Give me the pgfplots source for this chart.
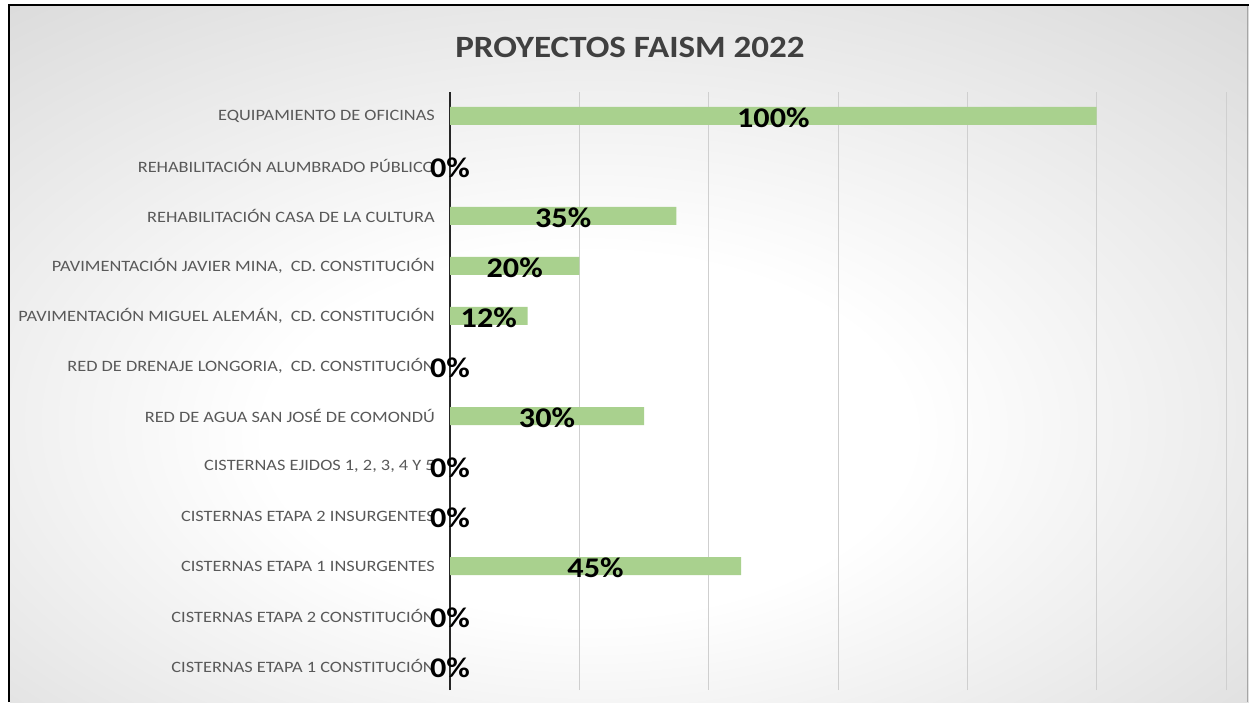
\documentclass[border=0pt]{standalone}
\usepackage{pgfplots}
\pgfplotsset{compat=1.18}
\usepackage{pgfplotstable}
\usepackage{graphicx}
\usepackage{fontspec}
\setmainfont{Carlito}
\definecolor{barg}{HTML}{A9D18E}
\definecolor{labg}{HTML}{595959}
\definecolor{titg}{HTML}{404040}
\definecolor{gridg}{HTML}{CFCFCF}
\newcommand\sx[1]{\scalebox{1.13}[1]{#1}}
\newcommand\sy[1]{\scalebox{1.16}[1]{#1}}
\pgfdeclareradialshading{bgshade}{\pgfpoint{-2bp}{-7bp}}{color(0bp)=(white); color(13bp)=(white); color(50bp)=(gray!42); color(75bp)=(gray!50)}

\pgfplotstableread{
i v
0 0
1 0
2 45
3 0
4 0
5 30
6 0
7 12
8 20
9 35
10 0
11 100
}\datatable

\begin{document}
\begin{tikzpicture}
\path[use as bounding box] (0pt,0pt) rectangle (1249pt,702pt);
\fill[white] (0pt,0pt) rectangle (1249pt,702pt);
\shade[shading=bgshade] (10pt,0pt) rectangle (1249pt,696pt);
\draw[black, line width=2pt] (9pt,0pt) -- (9pt,697pt) -- (1249pt,697pt);
\draw[gray!70, line width=1pt] (1247pt,0pt) -- (1247pt,696pt);
\node[anchor=center, text=titg, font=\fontsize{31}{36}\selectfont\bfseries] at (630pt,655pt) {\sx{PROYECTOS FAISM 2022}};
\begin{axis}[
  at={(450pt,12pt)}, anchor=south west,
  scale only axis, width=776pt, height=598pt,
  xmin=0, xmax=120, ymin=-0.48, ymax=11.48,
  axis y line*=left, axis x line*=bottom,
  x axis line style={draw=none},
  y axis line style={draw=black!85, line width=1.5pt},
  xtick={20,40,60,80,100,120}, xticklabels={},
  major x tick style={draw=none},
  xmajorgrids, grid style={gridg, line width=1pt},
  ytick={0,...,11},
  major y tick style={draw=none},
  yticklabels={
    {\sy{CISTERNAS ETAPA 1 CONSTITUCIÓN}},
    {\sy{CISTERNAS ETAPA 2 CONSTITUCIÓN}},
    {\sy{CISTERNAS ETAPA 1 INSURGENTES}},
    {\sy{CISTERNAS ETAPA 2 INSURGENTES}},
    {\sy{CISTERNAS EJIDOS 1, 2, 3, 4 Y 5}},
    {\sy{RED DE AGUA SAN JOSÉ DE COMONDÚ}},
    {\sy{RED DE DRENAJE LONGORIA,\ \ CD. CONSTITUCIÓN}},
    {\sy{PAVIMENTACIÓN MIGUEL ALEMÁN,\ \ CD. CONSTITUCIÓN}},
    {\sy{PAVIMENTACIÓN JAVIER MINA,\ \ CD. CONSTITUCIÓN}},
    {\sy{REHABILITACIÓN CASA DE LA CULTURA}},
    {\sy{REHABILITACIÓN ALUMBRADO PÚBLICO}},
    {\sy{EQUIPAMIENTO DE OFICINAS}}
  },
  yticklabel style={font=\fontsize{15.8}{18}\selectfont, text=labg, inner sep=0pt, anchor=east, xshift=-15pt},
  clip=false,
]
\addplot[xbar, bar width=18pt, fill=barg, draw=none, bar shift=0pt] table[x=v, y=i] {\datatable};
\addplot[draw=none, mark=none, nodes near coords={\sx{\pgfplotspointmeta\%}},
  point meta=explicit symbolic,
  nodes near coords style={anchor=center, font=\fontsize{28.5}{32}\selectfont\bfseries, text=black, inner sep=0pt, yshift=-1.5pt}]
  table[x expr=\thisrow{v}/2, y=i, meta=v] {\datatable};
\end{axis}
\end{tikzpicture}
\end{document}
